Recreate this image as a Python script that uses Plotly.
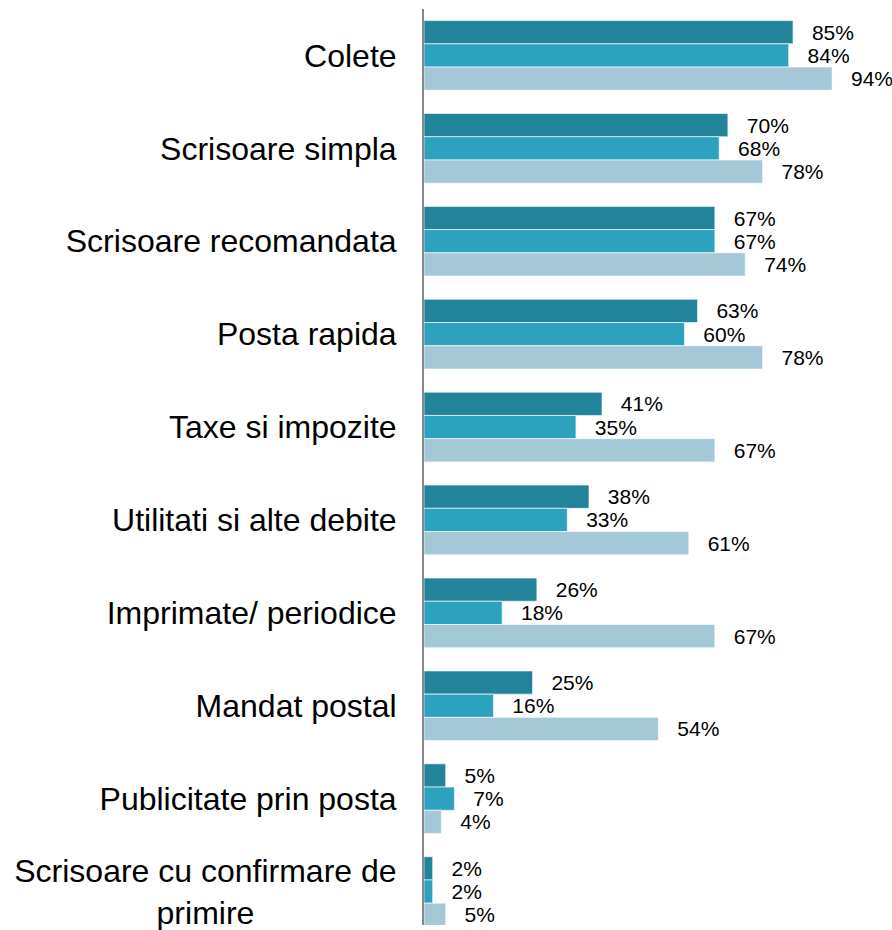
import plotly.graph_objects as go

categories = [
    "Colete",
    "Scrisoare simpla",
    "Scrisoare recomandata",
    "Posta rapida",
    "Taxe si impozite",
    "Utilitati si alte debite",
    "Imprimate/ periodice",
    "Mandat postal",
    "Publicitate prin posta",
    "Scrisoare cu confirmare de primire",
]
tick_labels = categories[:-1] + [
    "Scrisoare cu confirmare de<br>primire" + "\u00a0" * 16
]

series_1 = [85, 70, 67, 63, 41, 38, 26, 25, 5, 2]
series_2 = [84, 68, 67, 60, 35, 33, 18, 16, 7, 2]
series_3 = [94, 78, 74, 78, 67, 61, 67, 54, 4, 5]

colors = ["#22849B", "#2CA2BF", "#A5C8D8"]

fig = go.Figure()
for name, vals, col in zip(["Seria 1", "Seria 2", "Seria 3"],
                           [series_1, series_2, series_3], colors):
    fig.add_trace(go.Bar(
        y=categories,
        x=vals,
        name=name,
        orientation='h',
        marker=dict(color=col, line=dict(color='rgba(255,255,255,0.6)', width=1)),
        text=vals,
        texttemplate="  \u2009%{x}%",
        textposition='outside',
        textfont=dict(size=21, color='black'),
        cliponaxis=False,
    ))

fig.update_layout(
    width=892,
    height=930,
    barmode='group',
    bargap=0.25,
    bargroupgap=0,
    showlegend=False,
    margin=dict(l=424, r=0, t=9, b=0),
    paper_bgcolor='white',
    plot_bgcolor='white',
    font=dict(family="Liberation Sans, Arial, sans-serif", color='black'),
    xaxis=dict(range=[0, 107.8], visible=False),
    yaxis=dict(
        range=[9.36, -0.5],
        tickmode='array',
        tickvals=categories,
        ticktext=tick_labels,
        tickfont=dict(size=32, color='black'),
        ticks='outside',
        ticklen=19,
        tickcolor='rgba(0,0,0,0)',
        showline=True,
        linecolor='#888888',
        linewidth=2,
        showgrid=False,
    ),
)

# drop the default 8px page margin so the figure fills the window exactly
fig.write_html("out.html", config={'displayModeBar': False},
               post_script="document.body.style.margin='0';")
